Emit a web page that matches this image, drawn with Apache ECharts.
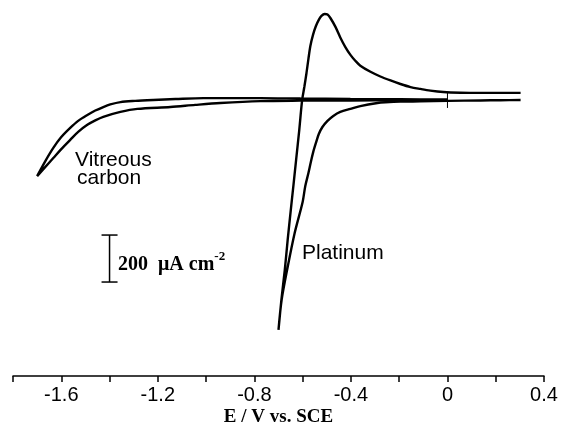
<!DOCTYPE html>
<html>
<head>
<meta charset="utf-8">
<script src="https://cdn.jsdelivr.net/npm/echarts@6/dist/echarts.min.js"></script>
<style>html,body{margin:0;padding:0;background:#fff}#c{width:561px;height:436px}</style>
</head>
<body>
<div id="c"></div>
<script>
// Potential E (V vs. SCE) and current density (μA cm^-2)
const platinumE = [0.303,0.220,0.137,0,-0.112,-0.195,-0.257,-0.290,-0.361,-0.402,-0.444,-0.473,-0.497,-0.518,-0.533,-0.545,-0.556,-0.566,-0.576,-0.589,-0.600,-0.633,-0.662,-0.687,-0.700,
  -0.688,-0.674,-0.662,-0.649,-0.638,-0.627,-0.614,-0.602,-0.593,-0.584,-0.576,-0.568,-0.557,-0.545,-0.532,-0.522,-0.509,-0.497,-0.485,-0.464,-0.444,-0.423,-0.402,-0.381,-0.361,-0.319,-0.278,-0.236,-0.195,-0.153,-0.112,-0.071,-0.017,0.054,0.137,0.220,0.303];
const platinumI = [0,-1,-2,-4,-6,-7,-10,-13,-26,-38,-51,-68,-89,-115,-145,-183,-221,-264,-311,-366,-434,-566,-711,-851,-979,
  -851,-724,-596,-468,-362,-255,-128,0,55,115,175,230,277,315,343,358,366,364,349,311,266,225,192,166,146,120,100,83,68,55,47,40,34,31,30,30,30];
const carbonE = [0,-0.195,-0.402,-0.609,-0.775,-1.011,-1.127,-1.219,-1.294,-1.355,-1.397,-1.426,-1.459,-1.492,-1.530,-1.563,-1.600,-1.633,-1.666,-1.700,
  -1.666,-1.633,-1.600,-1.563,-1.530,-1.492,-1.459,-1.426,-1.355,-1.285,-1.148,-1.045,-0.941,-0.775,-0.609,-0.402,-0.195,0];
const carbonI = [2,3,4,6,8,8,4,0,-4,-9,-19,-30,-45,-64,-89,-119,-158,-204,-260,-324,
  -285,-247,-209,-170,-136,-106,-87,-72,-51,-38,-30,-21,-13,-5,-3,-2,-1,0];
const tickLabels = ['-1.6','-1.2','-0.8','-0.4','0','0.4'];
const scaleBar = [-1.4, -575, 200];      // E position, top value, length (μA cm^-2)
const zeroMark = [[0, 34], [0, -34]];

const pts = (xs, ys) => xs.map((x, i) => [x, ys[i]]);
const sans = "'Liberation Sans', Arial, sans-serif";
const serif = "'Liberation Serif', 'Times New Roman', serif";

const chart = echarts.init(document.getElementById('c'));
chart.setOption({
  animation: false,
  backgroundColor: '#fff',
  grid: { left: 13, right: 17, top: 6, bottom: 60 },
  xAxis: {
    type: 'value', min: -1.8, max: 0.4, interval: 0.2,
    splitLine: { show: false },
    axisLine: { onZero: false, lineStyle: { color: '#000', width: 1.5 } },
    axisTick: { inside: false, length: 6, lineStyle: { color: '#000', width: 1.5 } },
    axisLabel: {
      margin: 9, color: '#000', fontFamily: sans, fontSize: 20,
      formatter: v => { const s = String(Number(v.toFixed(1))); return tickLabels.includes(s) ? s : ''; }
    },
    name: 'E / V vs. SCE', nameLocation: 'middle', nameGap: 32, nameMoveOverlap: false,
    nameTextStyle: { color: '#000', fontFamily: serif, fontWeight: 'bold', fontSize: 19 }
  },
  yAxis: { type: 'value', min: -1175, max: 400, show: false },
  series: [
    { type: 'line', data: pts(carbonE, carbonI), showSymbol: false, smooth: 0.3,
      lineStyle: { color: '#000', width: 2.4 } },
    { type: 'line', data: pts(platinumE, platinumI), showSymbol: false, smooth: 0.3,
      lineStyle: { color: '#000', width: 2.4 } },
    { type: 'line', data: zeroMark, showSymbol: false, lineStyle: { color: '#000', width: 1 } },
    { type: 'custom', data: [[scaleBar[0], scaleBar[1], scaleBar[1] - scaleBar[2]]],
      renderItem: (params, api) => {
        const a = api.coord([api.value(0), api.value(1)]);
        const b = api.coord([api.value(0), api.value(2)]);
        const st = { stroke: '#000', lineWidth: 1.5 };
        return { type: 'group', children: [
          { type: 'line', shape: { x1: a[0], y1: a[1], x2: b[0], y2: b[1] }, style: st },
          { type: 'line', shape: { x1: a[0] - 8, y1: a[1], x2: a[0] + 8, y2: a[1] }, style: st },
          { type: 'line', shape: { x1: b[0] - 8, y1: b[1], x2: b[0] + 8, y2: b[1] }, style: st }
        ]};
      } }
  ],
  graphic: [
    { type: 'text', left: 75, top: 150, style: { text: 'Vitreous', font: '21px ' + sans, fill: '#000' } },
    { type: 'text', left: 77, top: 168, style: { text: 'carbon', font: '21px ' + sans, fill: '#000' } },
    { type: 'text', left: 302, top: 243, style: { text: 'Platinum', font: '21px ' + sans, fill: '#000' } },
    { type: 'text', left: 118, top: 250, style: {
        text: '{n|200  μA cm}{s|-2}', fill: '#000',
        rich: { n: { fontFamily: serif, fontWeight: 'bold', fontSize: 20, verticalAlign: 'bottom', padding: [5, 0, 0, 0] },
                s: { fontFamily: serif, fontWeight: 'bold', fontSize: 13, verticalAlign: 'top' } } } }
  ]
});
</script>
</body>
</html>
